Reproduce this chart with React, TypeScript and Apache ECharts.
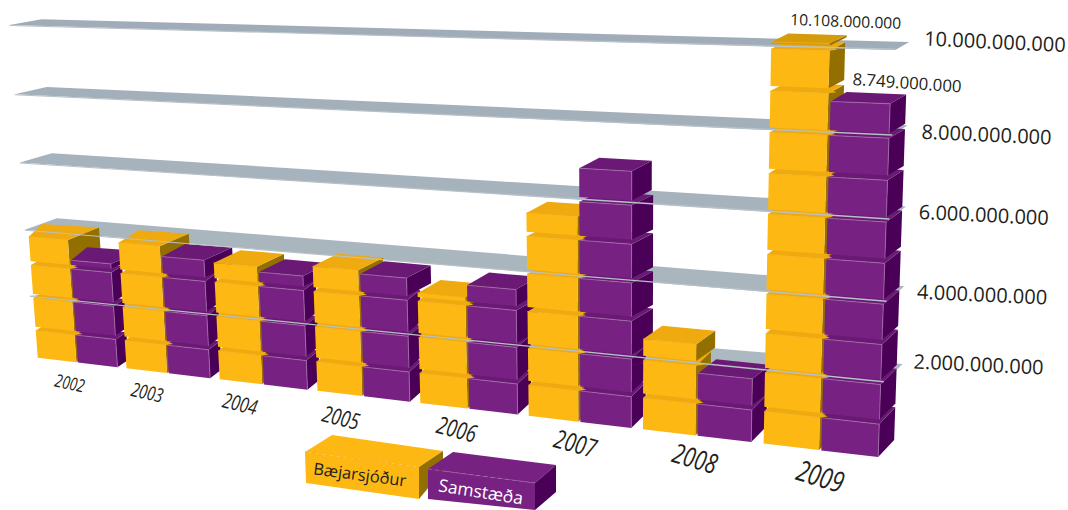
import React, { useEffect, useRef } from "react";
import * as echarts from "echarts";

const YEARS = ["2002", "2003", "2004", "2005", "2006", "2007", "2008", "2009"];
const SERIES_NAMES = ["Bæjarsjóður", "Samstæða"];
const BAEJARSJODUR = [3.8e9, 3.85e9, 3.5e9, 3.65e9, 3.17e9, 5.55e9, 2.5e9, 10.108e9];
const SAMSTAEDA = [3.2e9, 3.55e9, 3.35e9, 3.55e9, 3.5e9, 6.8e9, 1.75e9, 8.749e9];
const TICKS = [2e9, 4e9, 6e9, 8e9, 10e9];
const LABELLED_YEARS = ["2009"];
const BLOCK = 1e9;

const W = 1068;
const H = 510;

// Perspective of the front wall: unit square (u along the years, t along the values) to the page.
const CORNERS = [
  [38, 361],
  [878, 461],
  [892, 50],
  [13, 25],
];
function makeHomography(q: number[][]) {
  const [[x0, y0], [x1, y1], [x2, y2], [x3, y3]] = q;
  const sx = x0 - x1 + x2 - x3;
  const sy = y0 - y1 + y2 - y3;
  const dx1 = x1 - x2, dx2 = x3 - x2, dy1 = y1 - y2, dy2 = y3 - y2;
  const det = dx1 * dy2 - dx2 * dy1;
  const g = (sx * dy2 - dx2 * sy) / det;
  const h = (dx1 * sy - sx * dy1) / det;
  const a = x1 - x0 + g * x1, b = x3 - x0 + h * x3, d = y1 - y0 + g * y1, e = y3 - y0 + h * y3;
  return (u: number, t: number) => {
    const w = g * u + h * t + 1;
    return [(a * u + b * t + x0) / w, (d * u + e * t + y0) / w];
  };
}
const warp = makeHomography(CORNERS);

const COLORS = [
  { front: "#FDB813", side: "#936F00", top: "#EFAA0F", edge: "#F2AE12", slab: "#D49B0B" },
  { front: "#772282", side: "#4A0057", top: "#6A1A74", edge: "#A56FA9", slab: "#6A1A74" },
];

function lerp(a: number, b: number, k: number) {
  return a + (b - a) * k;
}
function bandToU(px: number, width: number) {
  return ((px / width) * YEARS.length - 0.05) / (YEARS.length - 0.1);
}
function polygon(points: number[][], fill: string, z2: number) {
  return { type: "polygon", z2, shape: { points }, style: { fill, stroke: "none" } };
}

function renderBar(s: number) {
  return (params: any, api: any) => {
    const i = api.value(0);
    const value = api.value(1);
    const width = params.coordSys.width;
    const zero = api.coord([0, 0])[1];
    const ten = api.coord([0, 1e10])[1];
    const band = api.size([1, 0])[0];
    const cx = api.coord([i, 0])[0];
    const left = cx - 0.45 * band;
    const gw = 0.9 * band;
    const xa = s === 0 ? left : left + 0.51 * gw;
    const xb = s === 0 ? left + 0.49 * gw : left + gw;
    const ua = bandToU(xa, width);
    const ub = bandToU(xb, width);
    const P = (u: number, v: number) => warp(u, (zero - api.coord([i, v])[1]) / (zero - ten));
    const c = COLORS[s];
    const children: any[] = [];
    const base = i * 4000 + s * 2000 + 10;

    const n = Math.ceil(value / BLOCK);
    for (let k = 0; k < n; k++) {
      const isTop = k === n - 1;
      const bot = k === 0 ? 0.1e9 : k * BLOCK + 0.06e9;
      const top = isTop ? value : (k + 1) * BLOCK - 0.06e9;
      const midV = top / 1e9;
      let dxR: number, dxL: number, dy: number;
      if (isTop) {
        dxR = 32 - 16 * ub;
        dxL = dxR - Math.max(0, 18 - 70 * ua);
        dy = -(15 - midV * 0.65);
      } else {
        const boost = ub > 0.6 && ub < 0.92 && midV >= 2 ? 7 : 0;
        dxR = 10 + 6 * ub + boost;
        dxL = dxR;
        dy = -(6 + 12 * ub * Math.max(0.2, 1 - midV / 11));
      }
      const fl0 = P(ua, bot), fr0 = P(ub, bot), fr1 = P(ub, top), fl1 = P(ua, top);
      const z = base + k * 10;
      const thin = isTop && value - k * BLOCK < 0.12e9;
      children.push(
        polygon(
          [fr0, fr1, [fr1[0] + dxR, fr1[1] + dy], [fr0[0] + dxR, fr0[1] + dy]],
          c.side,
          z,
        ),
      );
      children.push(
        polygon(
          [fl1, fr1, [fr1[0] + dxR, fr1[1] + dy], [fl1[0] + dxL, fl1[1] + dy]],
          thin ? c.slab : c.top,
          z + 1,
        ),
      );
      children.push(polygon([fl0, fr0, fr1, fl1], thin ? c.slab : c.front, z + 2));
      children.push({
        type: "polyline",
        z2: z + 3,
        shape: { points: s === 1 ? [fl1, fr1, fr0] : [fl1, fr1] },
        style: { stroke: c.edge, lineWidth: 0.8, fill: "none" },
      });
      // the small lip of a yellow block that pokes out over the purple neighbour
      if (s === 0 && !isTop) {
        const up = P(ub, (k + 1) * BLOCK + 0.06e9);
        children.push(polygon([fr1, [fr1[0] + 8, fr1[1] - 1], up], c.top, i * 4000 + 3900));
      }
    }

    if (LABELLED_YEARS.includes(YEARS[i])) {
      const p = P(ua, value);
      children.push({
        type: "text",
        z2: 900000,
        x: p[0] + (s === 0 ? 19 : 22),
        y: p[1] - 23,
        rotation: (-(s === 0 ? 2 : 4) * Math.PI) / 180,
        style: {
          text: value.toLocaleString("de-DE"),
          font: `400 ${s === 0 ? 15.7 : 16.8}px "Open Sans", sans-serif`,
          fill: "#231F20",
          textAlign: "left",
          textVerticalAlign: "middle",
        },
      });
    }
    return { type: "group", children };
  };
}

// Layout of the shelves, per tick: label offset from the far corner, and rise of the far left corner.
const TICK_LABEL_OFFSETS = [
  [11, -3],
  [13, 5],
  [13, 5],
  [14, 6],
  [15, -4],
];
const SHELF_LEFT_RISE = [2, 11.5, 9.3, 7.3, 5.7];

function renderShelf(params: any, api: any) {
  const v = api.value(1);
  const idx = params.dataIndex;
  const zero = api.coord([0, 0])[1];
  const ten = api.coord([0, 1e10])[1];
  const t = (zero - api.coord([0, v])[1]) / (zero - ten);
  const vb = v / 1e9;
  const fL = warp(-0.005, t);
  const fR = warp(1.003, t);
  const bL = [fL[0] + 32, fL[1] - SHELF_LEFT_RISE[idx]];
  const bR = [fR[0] + lerp(20, 14, vb / 10), fR[1] - (21 - 1.3 * vb)];
  const shade = vb / 10;
  const mix = (a: number, b: number) => Math.round(lerp(a, b, shade));
  const fill = `rgb(${mix(176, 160)},${mix(188, 173)},${mix(194, 184)})`;
  const label = TICK_LABEL_OFFSETS[idx];
  return {
    type: "group",
    children: [
      polygon([fL, bL, bR, fR], fill, 1),
      polygon([fL, [fR[0], fR[1] - 1.5], fR, [fL[0], fL[1] + 1]], "#B7C1C6", 800000),
      {
        type: "text",
        z2: 900000,
        x: bR[0] + label[0],
        y: bR[1] + label[1],
        rotation: (-2.6 * Math.PI) / 180,
        style: {
          text: v.toLocaleString("de-DE"),
          font: '400 20px "Open Sans", sans-serif',
          fill: "#231F20",
          textAlign: "left",
          textVerticalAlign: "middle",
        },
      },
    ],
  };
}

// Layout of the year labels: shift from the centre of each group.
const YEAR_LABEL_NUDGE = [
  [-9, -3],
  [-22, -5],
  [-24, -6],
  [-23, -4],
  [-12, -6],
  [-4, -5],
  [-1, -5],
  [1, -2],
];

function renderYear(params: any, api: any) {
  const i = api.value(0);
  const width = params.coordSys.width;
  const zero = api.coord([0, 0])[1];
  const ten = api.coord([0, 1e10])[1];
  const cx = api.coord([i, 0])[0];
  const t = (zero - api.coord([i, -0.62e9])[1]) / (zero - ten);
  const p = warp(bandToU(cx, width), t);
  const k = i / (YEARS.length - 1);
  return {
    type: "text",
    z2: 900000,
    x: p[0] + YEAR_LABEL_NUDGE[i][0],
    y: p[1] + YEAR_LABEL_NUDGE[i][1],
    rotation: (-lerp(12, 17, k) * Math.PI) / 180,
    scaleX: 0.75,
    style: {
      text: YEARS[i],
      font: `italic 400 ${lerp(18, 29, k)}px "Open Sans", sans-serif`,
      fill: "#231F20",
      textAlign: "center",
      textVerticalAlign: "middle",
    },
  };
}

function legendBox(
  front: number[][],
  top: number[][],
  side: number[][],
  c: { front: string; side: string; edge: string },
) {
  return [
    { type: "polygon", shape: { points: top }, style: { fill: c.front } },
    { type: "polygon", shape: { points: side }, style: { fill: c.side } },
    { type: "polygon", shape: { points: front }, style: { fill: c.front } },
    {
      type: "polyline",
      shape: { points: [front[0], front[1]] },
      style: { stroke: c.edge, lineWidth: 0.7, lineDash: [4, 3], fill: "none" },
    },
  ];
}

export default function App() {
  const ref = useRef<HTMLDivElement>(null);
  useEffect(() => {
    const chart = echarts.init(ref.current!, null, { renderer: "svg" });
    const barSeries = [BAEJARSJODUR, SAMSTAEDA].map((vals, s) => ({
      type: "custom",
      name: SERIES_NAMES[s],
      coordinateSystem: "cartesian2d",
      clip: false,
      silent: true,
      encode: { x: 0, y: 1 },
      data: vals.map((v, i) => [i, v]),
      renderItem: renderBar(s),
    }));
    chart.setOption({
      animation: false,
      backgroundColor: "#ffffff",
      grid: { left: 0, right: 0, top: 0, bottom: 0, containLabel: false },
      xAxis: { type: "category", data: YEARS, show: false },
      yAxis: { type: "value", min: -2e9, max: 12e9, interval: 2e9, show: false },
      series: [
        {
          type: "custom",
          name: "shelves",
          coordinateSystem: "cartesian2d",
          clip: false,
          silent: true,
          encode: { x: 0, y: 1 },
          data: TICKS.map((v) => [0, v]),
          renderItem: renderShelf,
        },
        ...barSeries,
        {
          type: "custom",
          name: "years",
          coordinateSystem: "cartesian2d",
          clip: false,
          silent: true,
          encode: { x: 0, y: 1 },
          data: YEARS.map((_, i) => [i, 0]),
          renderItem: renderYear,
        },
      ],
      graphic: {
        elements: [
          ...legendBox(
            [[305, 452], [419, 467], [419, 499], [306, 483]],
            [[305, 452], [332, 435], [443, 451], [419, 467]],
            [[419, 467], [443, 451], [443, 470], [419, 499]],
            COLORS[0],
          ),
          {
            type: "text",
            x: 360,
            y: 474,
            rotation: (-7.5 * Math.PI) / 180,
            style: {
              text: SERIES_NAMES[0],
              font: '400 16.5px "Open Sans", sans-serif',
              fill: "#231F20",
              textAlign: "center",
              textVerticalAlign: "middle",
            },
          },
          ...legendBox(
            [[428, 469], [535, 483], [535, 510], [428, 499]],
            [[428, 469], [453, 452], [556, 465], [535, 483]],
            [[535, 483], [556, 465], [556, 492], [535, 510]],
            COLORS[1],
          ),
          {
            type: "text",
            x: 481,
            y: 491,
            rotation: (-9 * Math.PI) / 180,
            style: {
              text: SERIES_NAMES[1],
              font: '400 17.5px "Open Sans", sans-serif',
              fill: "#ffffff",
              textAlign: "center",
              textVerticalAlign: "middle",
            },
          },
        ],
      },
    });
    return () => chart.dispose();
  }, []);
  return <div ref={ref} style={{ position: "absolute", left: 0, top: 0, width: W, height: H }} />;
}
